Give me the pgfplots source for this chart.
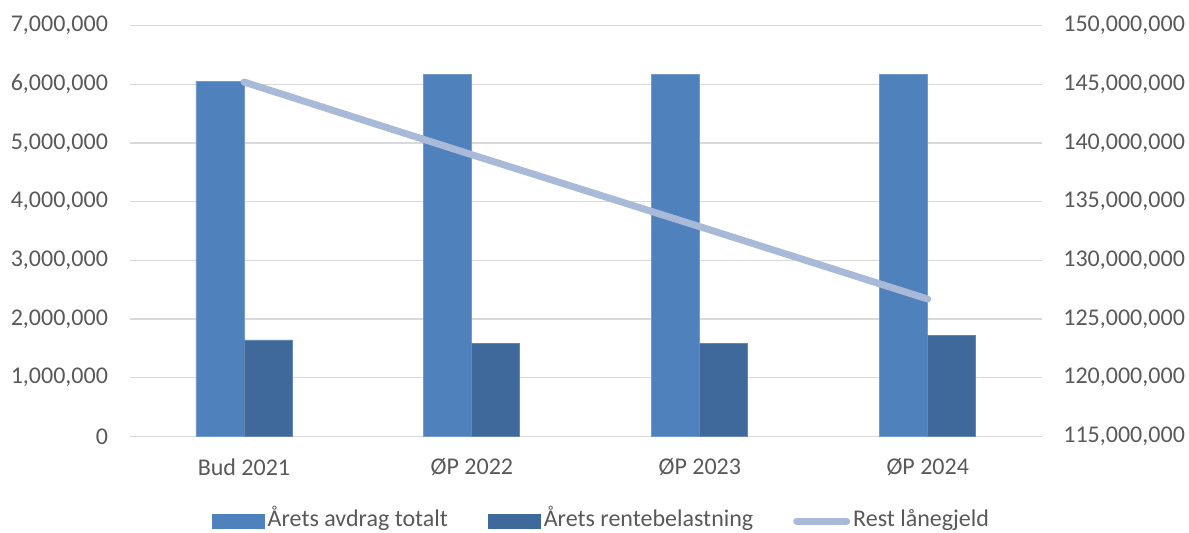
\documentclass[border=0pt]{standalone}
\usepackage{fontspec}
\setmainfont{Carlito}
\usepackage{pgfplots}
\pgfplotsset{compat=1.18}
\definecolor{barA}{RGB}{79,129,189}
\definecolor{barB}{RGB}{63,104,155}
\definecolor{lineC}{RGB}{169,185,216}
\definecolor{txt}{RGB}{89,89,89}
\definecolor{gridc}{RGB}{217,217,217}
\begin{document}
\begin{tikzpicture}
\pgfplotsset{
 common/.style={
  scale only axis, width=455.85pt, height=205.3pt,
  at={(65pt,47.85pt)}, anchor=south west,
  xmin=-0.5, xmax=3.5,
  scaled y ticks=false,
  /pgf/number format/.cd, fixed, precision=0, 1000 sep={,}, assume math mode=true, /pgfplots/.cd,
  tick label style={font=\fontsize{12}{14}\selectfont, text=txt},
  major tick length=0pt,
  axis line style={draw=none},
 }
}
\begin{axis}[common,
  ymin=0, ymax=7000000, ytick distance=1000000,
  ymajorgrids, grid style={gridc, line width=0.75pt},
  xtick={0,1,2,3}, xticklabels={Bud 2021, ØP 2022, ØP 2023, ØP 2024},
  xticklabel style={yshift=-7.5pt},
  yticklabel style={xshift=-7.5pt},
  ybar=0pt, bar width=24pt,
  legend columns=3,
  legend style={draw=none, at={(0.5177,-0.2063)}, anchor=center,
    font=\fontsize{12}{14}\selectfont, text=txt,
    nodes={inner sep=1.5pt, text depth=0.25em, text height=0.75em},
    /tikz/every even column/.append style={column sep=18.5pt}},
  legend cell align=left,
]
\addplot[fill=barA, draw=barA!80!white, line width=0.4pt,
  legend image code/.code={\fill[barA] (0pt,-3.5pt) rectangle (26pt,3.5pt);}]
  coordinates {(0,6057000) (1,6171000) (2,6171000) (3,6171000)};
\addlegendentry{Årets avdrag totalt}
\addplot[fill=barB, draw=barB!80!white, line width=0.4pt,
  legend image code/.code={\fill[barB] (0pt,-3.5pt) rectangle (26pt,3.5pt);}]
  coordinates {(0,1642000) (1,1585000) (2,1579000) (3,1722000)};
\addlegendentry{Årets rentebelastning}
\addlegendimage{lineC, line width=3.5pt, line cap=round,
  legend image code/.code={\draw[lineC, line width=3.5pt, line cap=round] (1.75pt,0pt) -- (26.75pt,0pt);}}
\addlegendentry{Rest lånegjeld}
\end{axis}
\begin{axis}[common,
  ymin=115000000, ymax=150000000, ytick distance=5000000,
  axis y line*=right, xtick=\empty,
  yticklabel style={anchor=west, inner sep=0pt, xshift=10.65pt},
]
\addplot[lineC, line width=3.5pt, line cap=round]
  coordinates {(0,145200000) (1,139000000) (2,132870000) (3,126700000)};
\end{axis}
\pgfresetboundingbox
\path[use as bounding box] (0,0) rectangle (594.5pt,266pt);
\end{tikzpicture}
\end{document}
